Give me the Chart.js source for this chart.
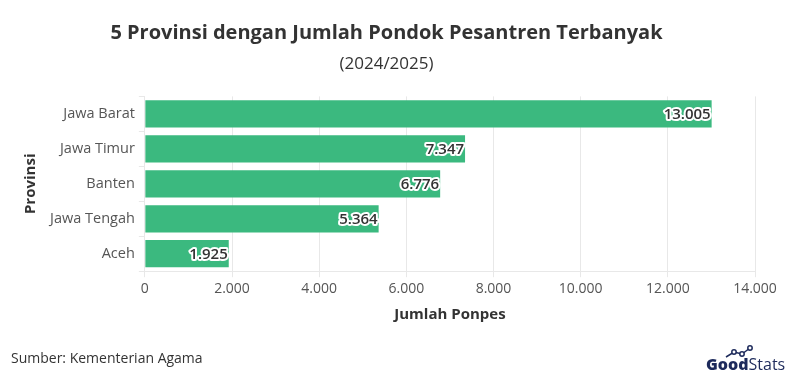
<!DOCTYPE html>
<html>
<head>
<meta charset="utf-8">
<script src="https://cdn.jsdelivr.net/npm/chart.js@4/dist/chart.umd.min.js"></script>
<style>
  html, body { margin: 0; padding: 0; background: #fff; }
  #wrap { width: 795px; height: 383px; position: relative; }
</style>
</head>
<body>
<div id="wrap"><canvas id="c" width="795" height="383"></canvas></div>
<script>
const categories = ['Jawa Barat', 'Jawa Timur', 'Banten', 'Jawa Tengah', 'Aceh'];
const values = [13005, 7347, 6776, 5364, 1925];
const xMax = 14000;
const xStep = 2000;
const titleText = '5 Provinsi dengan Jumlah Pondok Pesantren Terbanyak';
const subtitleText = '(2024/2025)';
const sourceText = 'Sumber: Kementerian Agama';

const FONT = "'Open Sans', sans-serif";
const fmt = v => Math.round(v).toString().replace(/\B(?=(\d{3})+(?!\d))/g, '.');

const labelPlugin = {
  id: 'barLabels',
  afterDatasetsDraw(chart) {
    const ctx = chart.ctx;
    const meta = chart.getDatasetMeta(0);
    ctx.save();
    ctx.font = `600 15px ${FONT}`;
    ctx.textAlign = 'right';
    ctx.textBaseline = 'middle';
    ctx.lineJoin = 'round';
    meta.data.forEach((bar, i) => {
      const t = fmt(values[i]);
      const x = bar.x - 1;
      const y = bar.y + 1;
      ctx.lineWidth = 4;
      ctx.strokeStyle = '#ffffff';
      ctx.strokeText(t, x, y);
      ctx.fillStyle = '#333333';
      ctx.fillText(t, x, y);
    });
    ctx.restore();
  }
};

const footerPlugin = {
  id: 'footer',
  afterDraw(chart) {
    const ctx = chart.ctx;
    ctx.save();
    ctx.font = `14px ${FONT}`;
    ctx.fillStyle = '#333333';
    ctx.textAlign = 'left';
    ctx.textBaseline = 'alphabetic';
    ctx.fillText(sourceText, 11, 363);
    // logo
    const navy = '#1d2a5b';
    ctx.font = `800 16px ${FONT}`;
    ctx.fillStyle = navy;
    const gx = 706;
    const by = 370;
    ctx.fillText('Good', gx, by);
    const gw = ctx.measureText('Good').width;
    ctx.font = `400 16px ${FONT}`;
    ctx.fillText('Stats', gx + gw, by);
    // icon
    ctx.strokeStyle = navy;
    ctx.lineWidth = 1.5;
    ctx.beginPath();
    ctx.moveTo(gx + 20, by - 13);
    ctx.lineTo(gx + 28, by - 18);
    ctx.lineTo(gx + 36, by - 16);
    ctx.lineTo(gx + 44, by - 22);
    ctx.stroke();
    [[gx + 28, by - 18], [gx + 36, by - 16], [gx + 44, by - 22]].forEach(p => {
      ctx.beginPath();
      ctx.fillStyle = '#ffffff';
      ctx.arc(p[0], p[1], 2.2, 0, Math.PI * 2);
      ctx.fill();
      ctx.stroke();
    });
    ctx.restore();
  }
};

new Chart(document.getElementById('c'), {
  type: 'bar',
  data: {
    labels: categories,
    datasets: [{
      data: values,
      backgroundColor: 'rgb(59,185,127)',
      borderWidth: 0,
      categoryPercentage: 0.78,
      barPercentage: 1.0
    }]
  },
  options: {
    indexAxis: 'y',
    responsive: false,
    animation: false,
    layout: { padding: { left: 18, right: 40, top: 0, bottom: 55 } },
    plugins: {
      legend: { display: false },
      tooltip: { enabled: false },
      title: {
        display: true,
        text: titleText,
        color: '#333333',
        font: { family: FONT, size: 20, weight: '700' },
        padding: { top: 21, bottom: 9 }
      },
      subtitle: {
        display: true,
        text: subtitleText,
        color: '#333333',
        font: { family: FONT, size: 17, weight: '400' },
        padding: { top: 0, bottom: 22 }
      }
    },
    scales: {
      x: {
        min: 0,
        max: xMax,
        ticks: {
          stepSize: xStep,
          color: '#555555',
          font: { family: FONT, size: 14 },
          callback: v => fmt(v),
          padding: 3
        },
        grid: { color: '#e8e8e8', drawTicks: true, tickLength: 6 },
        border: { color: '#e8e8e8' },
        title: {
          display: true,
          text: 'Jumlah Ponpes',
          color: '#333333',
          font: { family: FONT, size: 15, weight: '700' },
          padding: { top: 6 }
        }
      },
      y: {
        ticks: {
          color: '#555555',
          font: { family: FONT, size: 14.5 },
          padding: 4
        },
        grid: { display: true, drawOnChartArea: false, color: '#e8e8e8', tickLength: 6 },
        border: { color: '#e8e8e8' },
        title: {
          display: true,
          text: 'Provinsi',
          color: '#333333',
          font: { family: FONT, size: 15, weight: '700' },
          padding: { bottom: 6 }
        }
      }
    }
  },
  plugins: [labelPlugin, footerPlugin]
});
</script>
</body>
</html>
